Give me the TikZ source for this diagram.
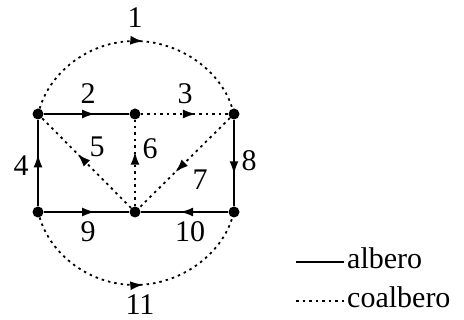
\documentclass[tikz,border=0pt]{standalone}
\usepackage{fontspec}
\setmainfont{Liberation Serif}
\usetikzlibrary{arrows.meta,decorations.markings}
\begin{document}
\begin{tikzpicture}[x=1pt,y=-1pt,
  vtx/.style={circle,fill=black,inner sep=0pt,minimum size=11pt},
  tree/.style={line width=1.8pt},
  cotree/.style={line width=1.8pt,dash pattern=on 2.5pt off 4pt},
  midarrow/.style={postaction={decorate},decoration={markings,mark=at position #1 with {\arrow{Latex[length=13pt,width=9pt]}}}},
  lbl/.style={font=\fontsize{30}{30}\selectfont,inner sep=0pt}]
\useasboundingbox (0,0) rectangle (464,320);
\node[vtx] (A) at (38,114) {};
\node[vtx] (B) at (135,114) {};
\node[vtx] (C) at (234,114) {};
\node[vtx] (D) at (38,212) {};
\node[vtx] (E) at (135,212) {};
\node[vtx] (F) at (234,212) {};
% arcs
\draw[cotree,midarrow=0.53] (A) .. controls (51,70.8) and (89.9,41) .. (135,41) .. controls (180.1,41) and (221,70.8) .. (C);
\draw[cotree,midarrow=0.53] (D) .. controls (51,255.2) and (89.9,285) .. (135,285) .. controls (180.1,285) and (221,255.2) .. (F);
% edges
\draw[tree,midarrow=0.6] (A) -- (B);
\draw[cotree,midarrow=0.63] (B) -- (C);
\draw[tree,midarrow=0.6] (D) -- (A);
\draw[cotree,midarrow=0.6] (E) -- (A);
\draw[cotree,midarrow=0.63] (E) -- (B);
\draw[cotree,midarrow=0.6] (C) -- (E);
\draw[tree,midarrow=0.63] (C) -- (F);
\draw[tree,midarrow=0.6] (D) -- (E);
\draw[tree,midarrow=0.55] (F) -- (E);
% labels
\node[lbl] (l1) at (135,18) {1};
\node[lbl] (l2) at (88,94) {2};
\node[lbl] (l3) at (185,94) {3};
\node[lbl] (l4) at (21,166) {4};
\node[lbl] (l5) at (97,147) {5};
\node[lbl] (l6) at (150,149) {6};
\node[lbl] (l7) at (200,180) {7};
\node[lbl] (l8) at (249,161) {8};
\node[lbl] (l9) at (88,232) {9};
\node[lbl] (l10) at (190,232) {10};
\node[lbl] (l11) at (140,305) {11};
% legend
\coordinate (s1) at (296,262);
\coordinate (s2) at (344,262);
\coordinate (c1) at (296,301);
\coordinate (c2) at (344,301);
\draw[tree] (s1) -- (s2);
\draw[cotree] (c1) -- (c2);
\node[lbl,anchor=base west] (la) at (347,269) {albero};
\node[lbl,anchor=base west] (lc) at (347,308) {coalbero};
\end{tikzpicture}
\end{document}
